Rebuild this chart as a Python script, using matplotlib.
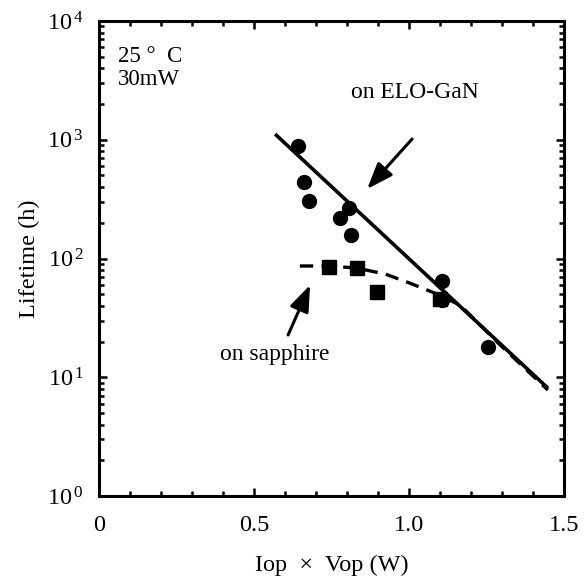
import numpy as np
import matplotlib
matplotlib.use("Agg")
import matplotlib.pyplot as plt
from matplotlib.ticker import LogLocator, MultipleLocator, FixedLocator

plt.rcParams['font.family'] = ['Liberation Serif', 'DejaVu Serif']
plt.rcParams['mathtext.fontset'] = 'custom'
plt.rcParams['mathtext.rm'] = 'Liberation Serif'
plt.rcParams['mathtext.it'] = 'Liberation Serif:italic'

# ELO-GaN data (circles)
elo_x = [0.642, 0.661, 0.677, 0.777, 0.806, 0.813, 1.106, 1.106, 1.255]
elo_y = [880, 441, 305, 219, 266, 158, 64.7, 44.8, 18.0]
# sapphire data (squares)
sap_x = [0.742, 0.832, 0.897, 1.100]
sap_y = [84.8, 83.2, 52.2, 45.6]
# fitted solid line (ELO-GaN)
fit_elo_x = [0.568, 1.448]
fit_elo_y = [1117, 8.1]
# dashed curve (sapphire)
fit_sap_x = [0.648, 0.745, 0.832, 0.923, 1.003, 1.084, 1.165, 1.294, 1.448]
fit_sap_y = [86.5, 86.5, 83.0, 74.0, 62.0, 51.0, 40.5, 18.7, 7.8]

x_ticks = [0, 0.5, 1.0, 1.5]
x_ticklabels = ['0', '0.5', '1.0', '1.5']
y_ticks = [1, 10, 100, 1000, 10000]
y_ticklabels = [r'$10^{\,0}$', r'$10^{\,1}$', r'$10^{\,2}$', r'$10^{\,3}$', r'$10^{\,4}$']

fig = plt.figure(figsize=(5.88, 5.83), dpi=100)
ax = fig.add_axes([99/588, 1 - 496/583, 465/588, 475/583])

ax.set_yscale('log')
ax.set_xlim(0, 1.5)
ax.set_ylim(1, 1e4)

ax.plot(fit_elo_x, fit_elo_y, color='black', lw=2.6, solid_capstyle='butt')
ax.plot(fit_sap_x, fit_sap_y, color='black', lw=2.4, linestyle=(0, (4, 2.5)))
ax.plot(elo_x, elo_y, 'o', color='black', ms=10, mec='black')
ax.plot(sap_x, sap_y, 's', color='black', ms=10, mec='black')

ax.xaxis.set_major_locator(FixedLocator(x_ticks))
ax.set_xticklabels(x_ticklabels)
ax.xaxis.set_minor_locator(MultipleLocator(0.1))
ax.yaxis.set_major_locator(FixedLocator(y_ticks))
ax.set_yticklabels(y_ticklabels)
ax.yaxis.set_minor_locator(LogLocator(base=10, subs=np.arange(2, 10)))

ax.tick_params(which='both', direction='in', top=True, right=True, width=1.8)
ax.tick_params(which='major', length=6, labelsize=17.5)
ax.tick_params(axis='x', which='major', pad=14)
ax.tick_params(axis='y', which='major', pad=11)
ax.tick_params(which='minor', length=3.5)
for s in ax.spines.values():
    s.set_linewidth(2.2)

ax.set_xlabel('Iop  ×  Vop (W)', fontsize=17.5, labelpad=13)
ax.set_ylabel('Lifetime (h)', fontsize=17.5, labelpad=5)

ax.text(0.041, 0.926, '25 °  C', transform=ax.transAxes, fontsize=16.5, va='center', ha='left')
ax.text(0.041, 0.876, '30mW', transform=ax.transAxes, fontsize=16.5, va='center', ha='left')

ax.text(1.02, 2520, 'on ELO-GaN', fontsize=17, ha='center', va='center')
ax.text(0.568, 15.4, 'on sapphire', fontsize=17, ha='center', va='center')

arrow_kw = dict(arrowstyle='-|>,head_length=0.8,head_width=0.3', color='black', lw=2.2, mutation_scale=20, shrinkA=0, shrinkB=0)
ax.annotate('', xy=(0.865, 385), xytext=(1.010, 1015), arrowprops=arrow_kw)
ax.annotate('', xy=(0.681, 59.8), xytext=(0.610, 22.7), arrowprops=arrow_kw)

fig.savefig('out.png', dpi=100)
